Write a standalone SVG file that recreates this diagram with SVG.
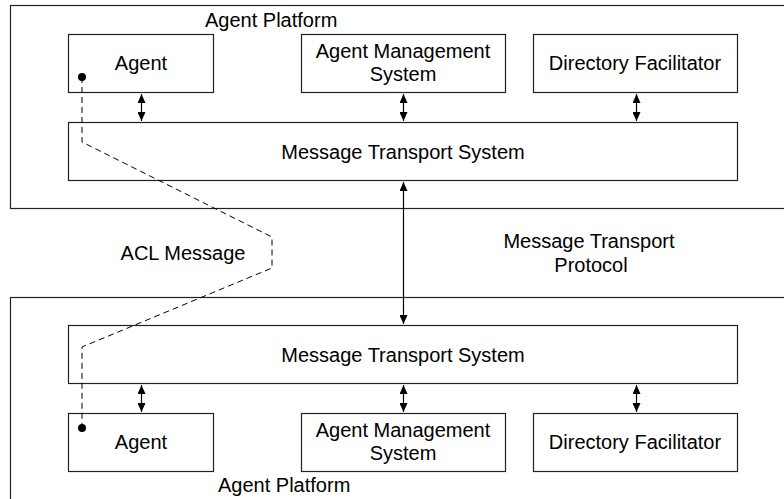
<svg xmlns="http://www.w3.org/2000/svg" width="784" height="499" viewBox="0 0 784 499">
<style>
.box{fill:#fff;stroke:#222;stroke-width:1.2}
.plat{fill:none;stroke:#222;stroke-width:1.2}
.t{font-family:"Liberation Sans",Arial,sans-serif;font-size:20px;fill:#000}
.c{text-anchor:middle}
.ln{stroke:#000;stroke-width:1.2;fill:none}
.dash{stroke:#000;stroke-width:1;fill:none;stroke-dasharray:6,4}
</style>
<defs>
<marker id="ah" viewBox="0 0 9 8" refX="9" refY="4" markerWidth="9" markerHeight="8" markerUnits="userSpaceOnUse" orient="auto-start-reverse">
<path d="M0,0 L9,4 L0,8 Z" fill="#000"/>
</marker>
</defs>
<rect fill="#fff" x="0" y="0" width="784" height="499"/>
<g id="platform-top">
<rect class="plat" x="10.5" y="5.5" width="790" height="203"/>
<text class="t" x="205" y="27">Agent Platform</text>
</g>
<g id="platform-bottom">
<rect class="plat" x="10.5" y="297.5" width="790" height="220"/>
<text class="t" x="218" y="492">Agent Platform</text>
</g>
<g id="agent-top">
<rect class="box" x="68.5" y="34.5" width="145" height="58"/>
<text class="t c" x="141" y="70">Agent</text>
</g>
<g id="ams-top">
<rect class="box" x="301.5" y="34.5" width="204" height="58"/>
<text class="t c" x="403" y="58">Agent Management</text>
<text class="t c" x="403" y="81">System</text>
</g>
<g id="df-top">
<rect class="box" x="533.5" y="34.5" width="204" height="58"/>
<text class="t c" x="635" y="70">Directory Facilitator</text>
</g>
<g id="mts-top">
<rect class="box" x="68.5" y="122.5" width="669" height="58"/>
<text class="t c" x="403" y="159">Message Transport System</text>
</g>
<g id="mts-bottom">
<rect class="box" x="68.5" y="325.5" width="669" height="58"/>
<text class="t c" x="403" y="362">Message Transport System</text>
</g>
<g id="agent-bottom">
<rect class="box" x="68.5" y="413.5" width="145" height="58"/>
<text class="t c" x="141" y="449">Agent</text>
</g>
<g id="ams-bottom">
<rect class="box" x="301.5" y="413.5" width="204" height="58"/>
<text class="t c" x="403" y="437">Agent Management</text>
<text class="t c" x="403" y="460">System</text>
</g>
<g id="df-bottom">
<rect class="box" x="533.5" y="413.5" width="204" height="58"/>
<text class="t c" x="635" y="449">Directory Facilitator</text>
</g>
<g id="labels">
<text class="t c" x="183" y="260">ACL Message</text>
<text class="t c" x="589" y="248">Message Transport</text>
<text class="t c" x="591" y="272">Protocol</text>
</g>
<g id="connectors">
<line class="ln" x1="141.5" y1="94" x2="141.5" y2="121" marker-start="url(#ah)" marker-end="url(#ah)"/>
<line class="ln" x1="403.5" y1="94" x2="403.5" y2="121" marker-start="url(#ah)" marker-end="url(#ah)"/>
<line class="ln" x1="636.5" y1="94" x2="636.5" y2="121" marker-start="url(#ah)" marker-end="url(#ah)"/>
<line class="ln" x1="403.5" y1="182" x2="403.5" y2="324" marker-start="url(#ah)" marker-end="url(#ah)"/>
<line class="ln" x1="141.5" y1="385" x2="141.5" y2="412" marker-start="url(#ah)" marker-end="url(#ah)"/>
<line class="ln" x1="403.5" y1="385" x2="403.5" y2="412" marker-start="url(#ah)" marker-end="url(#ah)"/>
<line class="ln" x1="636.5" y1="385" x2="636.5" y2="412" marker-start="url(#ah)" marker-end="url(#ah)"/>
<path class="dash" d="M82,77 L82,142 L272,237 L272,268 L82,347 L82,428"/>
<circle cx="82" cy="77" r="4" fill="#000"/>
<circle cx="82" cy="428" r="4" fill="#000"/>
</g>
</svg>
